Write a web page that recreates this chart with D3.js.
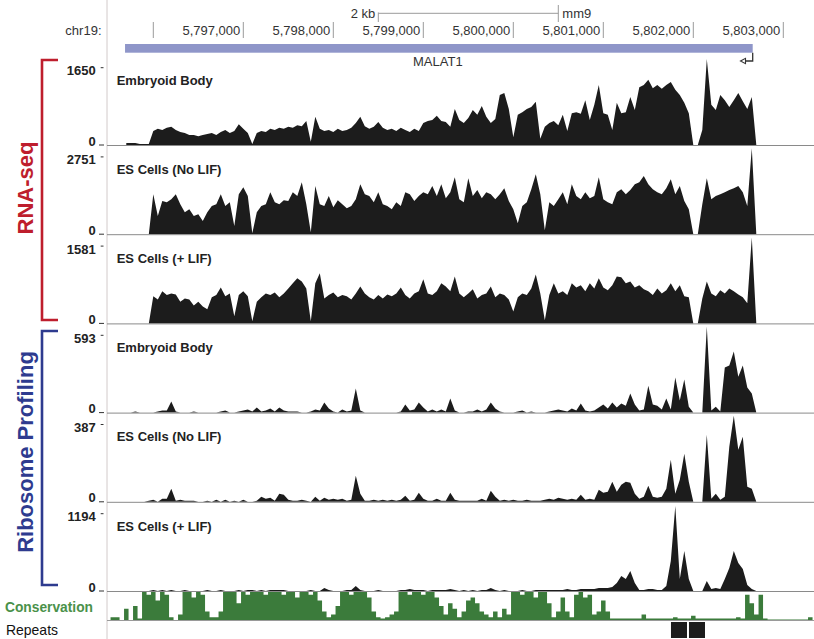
<!DOCTYPE html>
<html><head><meta charset="utf-8">
<script src="https://cdn.jsdelivr.net/npm/d3@7"></script>
<style>body{margin:0;background:#fff}svg{display:block;font-family:"Liberation Sans",Arial,sans-serif}</style>
</head><body><svg id="c" width="814" height="639"></svg>
<script>
// ---------- data ----------
const chrom = "chr19:";
const assembly = "mm9";
const axisTicks = [5796000,5797000,5798000,5799000,5800000,5801000,5802000,5803000];
const tickLabels = ["","5,797,000","5,798,000","5,799,000","5,800,000","5,801,000","5,802,000","5,803,000"];
const scaleBar = [5798500, 5800500];
const scaleBarLabel = "2 kb";
const geneName = "MALAT1";
const geneStart = 5795686, geneEnd = 5802660;

const binStart = 5795700, binSize = 50;
const trackNames = ["Embryoid Body","ES Cells (No LIF)","ES Cells (+ LIF)","Embryoid Body","ES Cells (No LIF)","ES Cells (+ LIF)"];
const trackMax = [1650, 2751, 1581, 593, 387, 1194];
const rnaEB = [40,40,40,20,20,20,270,310,290,330,
350,290,250,230,190,190,170,190,210,230,
190,250,290,230,270,400,310,230,20,230,
270,250,310,290,330,310,350,330,380,360,
460,60,540,310,270,290,250,310,270,290,
330,420,540,360,310,350,440,330,290,310,
270,330,290,250,310,270,420,460,480,560,
460,440,350,690,480,420,520,670,580,750,
540,420,500,960,1000,690,150,580,630,690,
730,830,120,350,420,460,380,580,270,610,
630,600,860,480,770,1150,610,580,290,810,
610,630,920,670,1110,1150,1250,1090,1150,1080,
1150,1210,1060,960,810,610,0,0,290,1650,
770,670,960,860,730,860,1000,840,690,920,0];
const rnaNoLIF = [0,0,0,0,0,0,1280,580,1060,1020,
1120,1280,960,700,800,580,640,420,700,900,
960,1280,900,1020,260,1280,1500,1220,30,700,
900,960,1340,1020,960,1090,1060,1340,1220,1660,
960,60,1540,960,900,1220,860,1090,960,830,
900,1120,1600,1280,1220,1020,1340,960,900,800,
1020,900,1340,1280,1060,1220,1340,1280,1540,1220,
1600,1150,1340,1820,1120,1020,1790,1220,1410,1150,
1340,1280,1120,1280,1470,1060,800,350,900,1020,
1440,1920,1280,130,1020,900,1120,1340,960,1600,
1220,1120,1340,1150,1220,1820,1120,1020,960,1340,
1440,1280,1410,1600,1660,1860,1600,1440,1340,1280,
1470,1760,1280,1540,1060,800,0,0,960,1790,
1120,1220,1280,1340,1410,1470,1540,1340,900,2750,0];
const rnaLIF = [0,0,0,0,0,0,500,440,590,520,
550,530,400,460,440,330,400,310,260,480,
520,660,500,550,130,520,590,500,40,400,
480,550,520,570,480,550,640,740,830,770,
640,40,740,920,460,520,570,480,520,500,
440,550,680,550,480,440,520,460,530,500,
550,660,520,460,550,590,810,550,520,590,
740,680,590,860,550,480,550,630,460,520,
550,680,480,550,520,440,220,480,550,520,
640,900,550,60,520,740,550,590,520,740,
660,700,590,740,640,830,660,610,700,860,
850,740,770,660,700,630,590,520,640,550,
610,740,590,700,500,480,0,0,460,770,
550,500,610,550,640,590,530,480,370,1581,0];
const riboEB = [0,0,7,0,0,0,0,7,14,14,
76,7,0,0,0,7,0,0,0,0,
0,7,14,0,0,7,14,21,7,35,
7,14,28,7,35,14,7,7,7,0,
0,7,21,14,69,28,7,0,21,7,
14,166,14,0,0,0,0,0,0,0,
0,7,55,14,21,69,35,7,21,7,
21,7,97,14,0,0,7,7,21,7,
21,69,28,7,0,0,0,7,14,0,
7,0,0,0,7,14,21,14,7,28,
14,62,14,7,14,35,55,28,69,35,
62,48,131,55,14,21,186,55,48,21,
97,21,242,83,228,41,0,0,0,593,
14,41,7,311,324,421,248,324,173,131,0];
const riboNoLIF = [0,0,0,0,0,5,9,0,14,14,
59,5,9,5,5,5,0,0,5,0,
9,0,9,0,5,0,9,0,0,5,
23,14,18,5,36,32,9,5,5,9,
5,0,23,5,18,9,14,9,14,5,
9,117,36,5,5,9,5,9,5,9,
5,9,27,5,9,41,14,5,5,14,
5,5,41,9,5,5,5,5,5,14,
5,50,23,5,9,5,9,5,5,9,
5,5,5,9,14,9,18,14,9,14,
9,32,9,14,9,54,41,45,90,45,
77,90,86,36,14,23,72,23,18,23,
59,189,36,99,216,90,0,0,0,302,
14,36,9,23,248,387,234,293,68,59,0];
const riboLIF = [0,0,0,0,0,0,14,0,14,0,
14,0,0,14,0,0,0,0,14,0,
0,14,0,0,0,14,0,14,14,0,
14,0,14,14,14,14,0,0,0,0,
0,14,0,0,42,14,0,0,0,14,
14,70,14,0,0,0,14,0,0,0,
0,14,14,28,14,14,14,0,14,14,
14,14,28,14,0,14,0,14,0,14,
14,42,14,0,14,0,0,0,14,0,
0,14,14,14,14,14,14,14,28,14,
14,28,28,28,28,42,42,42,56,111,
208,167,278,111,14,14,28,28,14,14,
70,417,1180,167,556,167,0,0,0,139,
28,42,28,167,320,556,389,306,83,28,0];

const consStart = 5795500, consBin = 50;
const conservation = [0,0.1,0.1,0,0.4,0,0.5,0.05,1,0.9,
1,0.7,1,0.9,0.1,0,0.2,1,1,0.8,
1,0.9,0.3,0.1,0.1,0.3,1,1,1,0.6,
1,0.9,1,1,1,0.9,1,1,1,0.9,
1,1,0.8,1,1,0.9,1,0.7,0.3,0.1,
0.2,0.5,1,1,0.9,1,1,1,0.8,0.3,
0.1,0.05,0.1,0.2,0.3,1,1,0.9,1,1,
0.9,1,1,0.8,0.5,0.2,0.6,0.4,0.1,0.3,
0.7,0.8,0.6,0.3,0.2,0.1,0.3,0.1,0.4,0.2,
1,1,0.9,1,1,0.8,1,1,0.6,0.1,
0.3,0.8,0.3,0.1,0.9,1,0.8,0.9,0.2,0.3,
0.7,0.3,0.05,0.05,0.05,0.05,0.05,0.05,0.05,0.2,
0.05,0.05,0.05,0.05,0.05,0.05,0.1,0.05,0.05,0.05,
0.15,0.05,0.05,0.05,0.05,0.05,0.05,0.05,0.05,0.05,
0.1,0.05,0.9,0.6,0.2,0.9,0.05,0.02,0.02,0.02,
0.02,0.02,0.02,0.02,0.02,0.02,0.1,0];
const repeatStarts = [5801752, 5801952];
const repeatEnds = [5801930, 5802130];

// ---------- drawing ----------
const svg = d3.select("#c");
const x = d3.scaleLinear().domain([5796000, 5803000]).range([153.3, 783.3]);
const divX = 107, W = 814;
const ink = "#1c1c1c";

svg.append("line").attr("x1", divX).attr("x2", divX).attr("y1", 0).attr("y2", 639)
  .attr("stroke", "#d2caca").attr("stroke-width", 1);

// position axis
svg.append("text").attr("x", 101.5).attr("y", 30).attr("dy", "0.35em").attr("text-anchor", "end")
  .attr("font-size", 13).attr("fill", "#333").text(chrom);
axisTicks.forEach((t, i) => {
  svg.append("line").attr("x1", x(t)).attr("x2", x(t)).attr("y1", 22).attr("y2", 38)
    .attr("stroke", "#9a9a9a").attr("stroke-width", 1);
  svg.append("text").attr("x", x(t) - 3).attr("y", 30).attr("dy", "0.35em").attr("text-anchor", "end")
    .attr("font-size", 13).attr("fill", "#333").text(tickLabels[i]);
});
// scale bar
const sb0 = x(scaleBar[0]), sb1 = x(scaleBar[1]);
svg.append("line").attr("x1", sb0).attr("x2", sb1).attr("y1", 13.3).attr("y2", 13.3).attr("stroke", "#9a9a9a");
svg.append("line").attr("x1", sb0).attr("x2", sb0).attr("y1", 12.5).attr("y2", 22).attr("stroke", "#9a9a9a");
svg.append("line").attr("x1", sb1).attr("x2", sb1).attr("y1", 5).attr("y2", 22).attr("stroke", "#9a9a9a");
svg.append("text").attr("x", sb0 - 3).attr("y", 13.5).attr("dy", "0.35em").attr("text-anchor", "end")
  .attr("font-size", 13).attr("fill", "#333").text(scaleBarLabel);
svg.append("text").attr("x", sb1 + 4).attr("y", 13.5).attr("dy", "0.35em")
  .attr("font-size", 13).attr("fill", "#333").text(assembly);

// gene
svg.append("rect").attr("x", x(geneStart)).attr("y", 44).attr("width", x(geneEnd) - x(geneStart)).attr("height", 8.7)
  .attr("fill", "#8f96c9");
const gx = x(geneEnd);
svg.append("path").attr("d", `M${gx},52.7V61H745.5`).attr("fill", "none").attr("stroke", "#333").attr("stroke-width", 1.3);
svg.append("path").attr("d", `M740.5,61L745.5,58.3L745.5,63.7Z`).attr("fill", "#fff").attr("stroke", "#333").attr("stroke-width", 1.1);
svg.append("text").attr("x", 413).attr("y", 61.7).attr("dy", "0.35em")
  .attr("font-size", 13).attr("fill", "#333").text(geneName);

// signal tracks
const tracks = [rnaEB, rnaNoLIF, rnaLIF, riboEB, riboNoLIF, riboLIF];
const baselines = [145, 234.2, 323.4, 412.6, 501.8, 591];
tracks.forEach((vals, k) => {
  const b = baselines[k];
  const y = d3.scaleLinear().domain([0, trackMax[k]]).range([b, b - 86]);
  const area = d3.area()
    .x((d, i) => x(binStart + i * binSize))
    .y0(y(0)).y1(d => y(d))
    .curve(d3.curveLinear);
  svg.append("path").datum(vals).attr("d", area).attr("fill", ink);
  svg.append("line").attr("x1", divX).attr("x2", W).attr("y1", b + 0.5).attr("y2", b + 0.5)
    .attr("stroke", "#8a8a8a").attr("stroke-width", 1);
  // y labels
  const yTop = b - 77.3;
  svg.append("line").attr("x1", 100.7).attr("x2", 103.5).attr("y1", yTop).attr("y2", yTop).attr("stroke", "#333");
  svg.append("line").attr("x1", 99).attr("x2", 104).attr("y1", b).attr("y2", b).attr("stroke", "#333");
  svg.append("text").attr("x", 95.7).attr("y", yTop + 3).attr("dy", "0.35em").attr("text-anchor", "end")
    .attr("font-size", 13).attr("font-weight", "bold").attr("fill", "#222").text(trackMax[k]);
  svg.append("text").attr("x", 95.7).attr("y", b - 4).attr("dy", "0.35em").attr("text-anchor", "end")
    .attr("font-size", 13).attr("font-weight", "bold").attr("fill", "#222").text(0);
  svg.append("text").attr("x", 116.7).attr("y", b - 65).attr("dy", "0.35em")
    .attr("font-size", 13).attr("font-weight", "bold").attr("fill", "#222").text(trackNames[k]);
});

// conservation
const cy = d3.scaleLinear().domain([0, 1]).range([620, 592]);
const carea = d3.area().x((d, i) => x(consStart + i * consBin)).y0(cy(0)).y1(d => cy(d)).curve(d3.curveStep);
svg.append("path").datum(conservation).attr("d", carea).attr("fill", "#3b7b3b");
svg.append("line").attr("x1", divX).attr("x2", W).attr("y1", 620.5).attr("y2", 620.5).attr("stroke", "#9a9a9a");
svg.append("text").attr("x", 5).attr("y", 607).attr("dy", "0.35em").attr("font-size", 15).attr("font-weight", "bold")
  .attr("textLength", 88).attr("lengthAdjust", "spacingAndGlyphs")
  .attr("fill", "#4a914a").text("Conservation");

// repeats
repeatStarts.forEach((s, i) => {
  svg.append("rect").attr("x", x(s)).attr("y", 622).attr("width", x(repeatEnds[i]) - x(s)).attr("height", 16).attr("fill", ink);
});
svg.append("text").attr("x", 6).attr("y", 629.5).attr("dy", "0.35em").attr("font-size", 15)
  .attr("textLength", 52).attr("lengthAdjust", "spacingAndGlyphs")
  .attr("fill", "#111").text("Repeats");

// group brackets
svg.append("path").attr("d", "M58,60H42V320H58").attr("fill", "none").attr("stroke", "#be1e2d").attr("stroke-width", 2.6);
svg.append("path").attr("d", "M58,331H42V585H58").attr("fill", "none").attr("stroke", "#2e3b8f").attr("stroke-width", 2.6);
svg.append("text").attr("transform", "translate(25,188) rotate(-90)").attr("text-anchor", "middle").attr("dy", "0.35em")
  .attr("font-size", 22).attr("font-weight", "bold").attr("fill", "#be1e2d").text("RNA-seq");
svg.append("text").attr("transform", "translate(25,452) rotate(-90)").attr("text-anchor", "middle").attr("dy", "0.35em")
  .attr("font-size", 22).attr("font-weight", "bold").attr("fill", "#2e3b8f").text("Ribosome Profiling");
</script></body></html>
